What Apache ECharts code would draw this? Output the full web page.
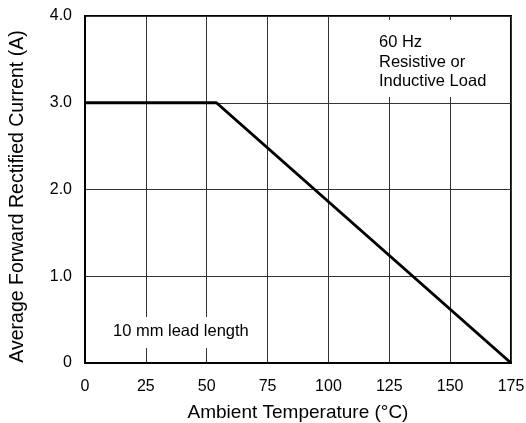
<!DOCTYPE html>
<html>
<head>
<meta charset="utf-8">
<script src="https://cdn.jsdelivr.net/npm/echarts@6/dist/echarts.min.js"></script>
<style>
    html, body { margin: 0; padding: 0; background: #fff; }
    #chart { width: 526px; height: 423px; }
</style>
</head>
<body>
<div id="chart"></div>
<script>
// derating curve: ambient temperature (°C) vs average forward current (A)
const temperature = [0, 54, 175];
const current = [3.0, 3.0, 0];
const xTicks = [0, 25, 50, 75, 100, 125, 150, 175];
const yTicks = ["0", "1.0", "2.0", "3.0", "4.0"];
const noteTop = ["60 Hz", "Resistive or", "Inductive Load"];
const noteBottom = "10 mm lead length";

const font = "Liberation Sans, Arial, Helvetica, sans-serif";
const chart = echarts.init(document.getElementById("chart"));

chart.setOption({
    animation: false,
    grid: {
        left: 85,
        right: 15,
        top: 16,
        bottom: 60,
        show: true,
        borderColor: "#000",
        borderWidth: 2,
        outerBoundsMode: "none",
    },
    xAxis: {
        type: "value",
        min: xTicks[0],
        max: xTicks[xTicks.length - 1],
        interval: 25,
        name: "Ambient Temperature (°C)",
        nameLocation: "middle",
        nameGap: 40,
        nameTextStyle: { fontFamily: font, fontSize: 19, color: "#000" },
        axisLine: { lineStyle: { color: "#000", width: 2 } },
        axisTick: { show: false },
        axisLabel: { margin: 16, fontFamily: font, fontSize: 16, color: "#000" },
        splitLine: { show: true, lineStyle: { color: "#333", width: 1 } },
    },
    yAxis: {
        type: "value",
        min: 0,
        max: 4,
        interval: 1,
        name: "Average Forward Rectified Current (A)",
        nameLocation: "middle",
        nameGap: 57,
        nameTextStyle: {
            fontFamily: font,
            fontSize: 19.5,
            color: "#000",
            padding: [0, 14, 0, 0],
        },
        axisLine: { show: true, lineStyle: { color: "#000", width: 2 } },
        axisTick: { show: false },
        axisLabel: {
            margin: 13,
            fontFamily: font,
            fontSize: 16,
            color: "#000",
            formatter: (v) => yTicks[Math.round(v)],
        },
        splitLine: { show: true, lineStyle: { color: "#333", width: 1 } },
    },
    graphic: [
        {
            type: "rect",
            shape: { x: 372, y: 20, width: 130, height: 77 },
            style: { fill: "#fff" },
            z: 10,
        },
        {
            type: "text",
            left: 379,
            top: 33,
            style: {
                text: noteTop.join("\n"),
                font: "16.5px " + font,
                fill: "#000",
                lineHeight: 19.5,
            },
            z: 11,
        },
        {
            type: "rect",
            shape: { x: 106, y: 317, width: 152, height: 31 },
            style: { fill: "#fff" },
            z: 10,
        },
        {
            type: "text",
            left: 113,
            top: 323,
            style: {
                text: noteBottom,
                font: "16.5px " + font,
                fill: "#000",
            },
            z: 11,
        },
    ],
    series: [
        {
            type: "line",
            data: temperature.map((t, i) => [t, current[i]]),
            symbol: "none",
            lineStyle: { color: "#000", width: 3 },
            z: 5,
        },
    ],
});
</script>
</body>
</html>
